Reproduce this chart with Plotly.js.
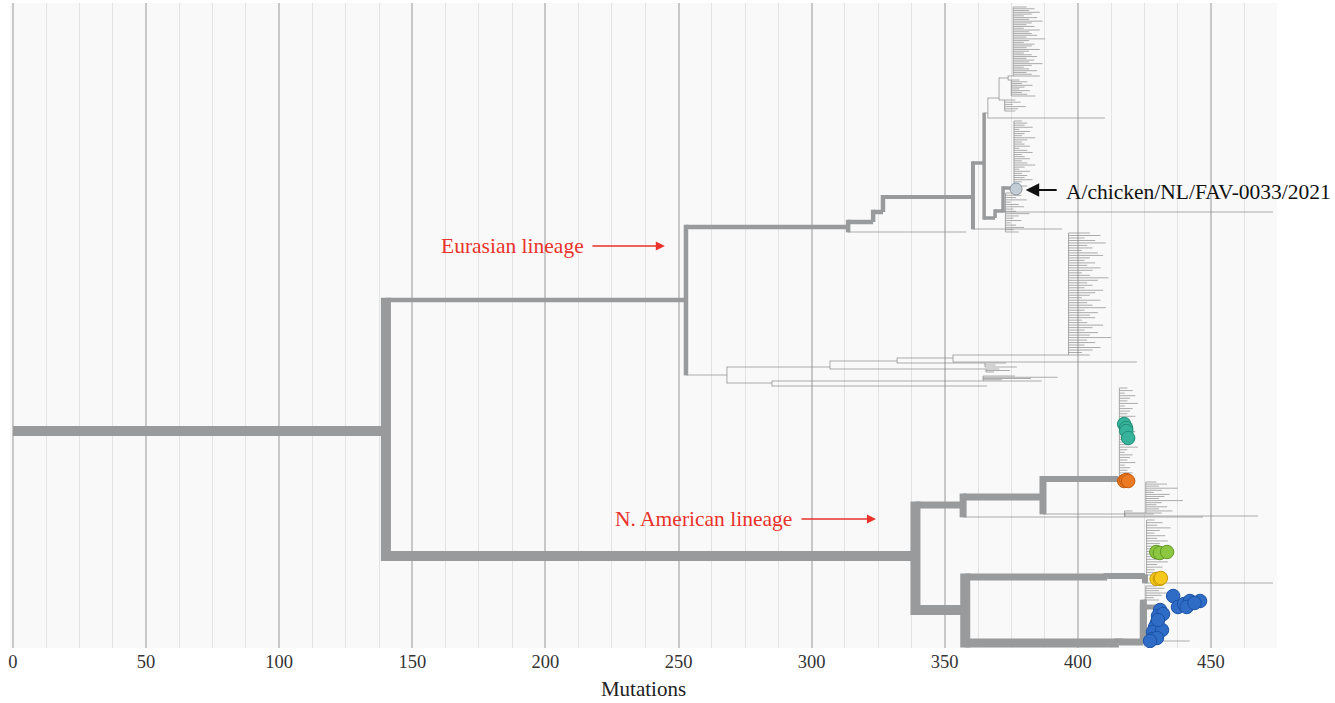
<!DOCTYPE html>
<html><head><meta charset="utf-8">
<script src="https://cdn.plot.ly/plotly-3.0.1.min.js"></script>
<style>html,body{margin:0;padding:0;background:#fff}#chart{width:1335px;height:703px}</style>
</head><body><div id="chart"></div>
<script>
// ---------- tree skeleton (internal branches) ----------
const branchName      = ['R0','N1','E1','E2','E3','E4','E5','E6','E7','E7a','E7b','E8','E9','E10','E2b','E5b','E7L','E9L',
  'EL','ELa','ELb','ELa1','ELa1a','ELL','ELb2','ELb2a',
  'NA1','NAu','NAl','NAu1','NAu2','NAu1a','NAu1b','NAu1L','NAl1','NAl1a','NAl1L','NAl2','NAl2a','NAl2b','NAl2L'];
const branchParent    = [null,'R0','N1','E1','E2','E3','E4','E5','E6','E7','E7a','E6','E8','E9','E2','E5','E7','E9',
  'E1','EL','EL','ELa','ELa1','ELa1a','ELb','ELb2',
  'N1','NA1','NA1','NAu','NAu','NAu1','NAu1','NAu1b','NAl','NAl1','NAl1a','NAl','NAl2','NAl2a','NAl2a'];
const branchMutations = [0,140.1,252.8,313.7,323.1,326.8,360.6,364.8,366.2,370.4,373.8,368.9,371.9,375.7,358.0,394.1,410.2,473.3,
  268.2,306.9,285.1,332.1,353.1,422.2,340.7,365.9,
  339.0,356.9,357.7,386.9,400.8,415.1,417.7,467.7,411.0,425.2,473.3,415.4,424.6,432.5,442.0];
const branchRow       = [431,431,300,227,222,212,197,163,113,98,78,218,211,188,232,229,118,212,
  375,367,383,361,358,362,386,386,
  556,505,610,497,517,479,514,516,577,576,583,643,642,607,641];

// ---------- collapsed tip clusters ----------
const clusterName      = ['TOPcol','TOPsub','TOPlow','EUmid','EUlow','ELcol','ELa1b','ELa2','ELb1','NAu2a','NAteal','NAmid','NAgy','NAblueTop'];
const clusterParent    = ['E7b','E7b','E7a','E10','E9','ELa1a','ELa1','ELa','ELb','NAu2','NAu1a','NAu1b','NAl1a','NAl2a'];
const clusterSpine     = [375.7,375.0,372.5,376.0,372.8,396.5,365.1,365.5,364.4,417.5,415.6,425.5,425.8,425.5];
const clusterRowTop    = [7,80,100,121,193,233,363,369,376,511,388,482,520,586];
const clusterRowBottom = [76,96,111,186,232,355,367,372,381,517,478,513,575,600];

const tipsTOPcol = [5,8,6,10,7,4,9,6,11,7,5,8,4,10,6,7,9,5,12,6,4,8,7,5,10,6,4,7,9,5,8,6,11,7,4,6,9,5,7,10];
const tipsTOPsub = [3,6,4,8,5,3,7,4,6,9];
const tipsTOPlow = [4,6,3,8,5,4];
const tipsEUmid  = [3,5,4,7,2,6,4,3,8,5,3,4,6,2,5,7,3,4,6,3,5,8,4,2,6,3,5,4,7,3,2,5];
const tipsEUlow  = [3,6,4,8,2,5,7,3,4,9,5,3,6,2,4,7,3,5];
const tipsELcol  = [8,12,6,10,14,7,9,5,11,13,8,6,10,7,12,9,5,8,15,11,7,9,6,13,10,8,5,12,7,9,14,6,11,8,10,5,7,13,9,6,11,8,16,7,10,6,12,9,5,8];
const tipsELa1b  = [8,4,12];
const tipsELa2   = [5,9,3];
const tipsELb1   = [12,28,18,7,22];
const tipsNAu2a  = [3,11,29.5];
const tipsNAteal = [3,5,2,6,4,3,7,2,5,4,3,6,2,4,5,3,2,6,4,3,5,2,4,7,3,2,5,4,3,6,2,4,3,5,2,4];
const tipsNAmid  = [4,8,5,12,6,3,9,7,5,14,6,4,8,5,10,6];
const tipsNAgy   = [3,6,4,9,5,3,7,4,8,5,3,6,4,7,3,5,8,4,6,3,5,4];
const tipsNAblue = [4,7,5,9,6,3,5];

// ---------- highlighted strains ----------
const refX = [376.8], refY = [189];
const tealX = [417.4,418.1,418.2,418.9], tealY = [424,428,431,438];
const orangeX = [417.4,418.2,418.9], orangeY = [481,480,481];
const greenX = [429.5,430.8,433.5], greenY = [552,553,552];
const yellowX = [429.6,430.8,431.2], yellowY = [579,579,578];
const blueX = [435.8,437.6,439.9,442.1,445.9,440.9,443.8,430.9,430.1,432.0,429.7,429.0,428.2,431.6,427.9,429.7,427.1,430.1];
const blueY = [596,607,604,601,601,607,603,610,616,614,623,627,632,630,639,638,641,620];

const tickValues = [0,50,100,150,200,250,300,350,400,450];
const xTitle = 'Mutations';
const labelEurasian = 'Eurasian lineage';
const labelNA = 'N. American lineage';
const labelStrain = 'A/chicken/NL/FAV-0033/2021';

// ---------- styles ----------
const branchWidth = {N1:10,NA1:10,NAl:10,NAl2:9,NAl2a:7,NAu:7,NAu1:7,NAu1a:6,NAl1:7,NAl1a:6,NAl2b:5,
  E1:4.5,E2:4.5,E3:4.5,E4:4.5,E5:4,E6:3.5,E8:3.5,E9:3.5,E10:3.5};
const THIN = 0.7;
const wOf = n => branchWidth[n] || THIN;

// ---------- build geometry ----------
const node = {};
branchName.forEach((n,i)=>{ node[n] = {x:branchMutations[i], y:branchRow[i], p:branchParent[i]}; });
const clusterTips = {TOPcol:tipsTOPcol,TOPsub:tipsTOPsub,TOPlow:tipsTOPlow,EUmid:tipsEUmid,EUlow:tipsEUlow,ELcol:tipsELcol,
  ELa1b:tipsELa1b,ELa2:tipsELa2,ELb1:tipsELb1,NAu2a:tipsNAu2a,NAteal:tipsNAteal,NAmid:tipsNAmid,NAgy:tipsNAgy,NAblueTop:tipsNAblue};

const groups = {}; // width -> {x:[],y:[]}
function seg(w,x0,y0,x1,y1){ const k=String(w); if(!groups[k]) groups[k]={x:[],y:[]}; groups[k].x.push(x0,x1,null); groups[k].y.push(y0,y1,null); }
function link(pn, cx, cy, cw){
  const p = node[pn]; const pw = wOf(pn);
  if (cy !== p.y){ const ext = cw/2*(cy>p.y?1:-1); seg(pw, p.x, p.y, p.x, cy+ext); }
  seg(cw, p.x, cy, cx, cy);
}
branchName.forEach(n=>{ const nd=node[n]; if(nd.p) link(nd.p, nd.x, nd.y, wOf(n)); });
clusterName.forEach((c,i)=>{
  const sx = clusterSpine[i], t = clusterRowTop[i], b = clusterRowBottom[i], tips = clusterTips[c];
  const p = node[clusterParent[i]];
  const attach = Math.min(Math.max(p.y, t), b);
  link(clusterParent[i], sx, attach, THIN);
  seg(THIN, sx, t, sx, b);
  const n = tips.length;
  tips.forEach((o,j)=>{ const r = n>1 ? t + j*(b-t)/(n-1) : t; seg(THIN, sx, r, sx+o, r); });
});

const traces = Object.keys(groups).map(Number).sort((a,b)=>a-b).map(w=>({
  type:'scatter', mode:'lines', x:groups[String(w)].x, y:groups[String(w)].y, hoverinfo:'skip',
  line:{color: w<1 ? '#8a8a8a' : '#999a9c', width:w}, showlegend:false
}));
function dots(x,y,fill,edge,size){ return {type:'scatter',mode:'markers',x:x,y:y,showlegend:false,hoverinfo:'skip',
  marker:{size:size||13.5,color:fill,line:{color:edge,width:1}}}; }
traces.push(dots(refX,refY,'#c3ccd4','#8796a2',12));
traces.push(dots(tealX,tealY,'#36b39a','#1f8d77'));
traces.push(dots(orangeX,orangeY,'#ec7a22','#c45a0e'));
traces.push(dots(greenX,greenY,'#8dc641','#5f9a25'));
traces.push(dots(yellowX,yellowY,'#f5c81c','#c99a00'));
traces.push(dots(blueX,blueY,'#2f6cc6','#1c52a6'));

const serif = 'Liberation Serif, Times New Roman, serif';
const red = '#e8322b';
const layout = {
  width:1335, height:703,
  margin:{l:10, r:58, t:3, b:55},
  paper_bgcolor:'#ffffff', plot_bgcolor:'#f9f9f9',
  xaxis:{range:[-1.1,474.8], tickvals:tickValues, ticktext:tickValues.map(String), showgrid:true, gridcolor:'#c8c8c8', gridwidth:2,
    minor:{dtick:12.5, tick0:0, showgrid:true, gridcolor:'#e3e3e3', gridwidth:1},
    zeroline:false, showline:false, ticks:'', tickfont:{family:serif, size:18.5, color:'#333'},
    title:{text:xTitle, font:{family:serif, size:21, color:'#222'}, standoff:10}},
  yaxis:{range:[648,3], visible:false, fixedrange:true},
  annotations:[
    {x:187.8, y:246, xref:'x', yref:'y', text:labelEurasian, showarrow:false, font:{family:serif,size:21.5,color:red}},
    {x:244.9, y:246, ax:217.1, ay:246, xref:'x', yref:'y', axref:'x', ayref:'y', text:'', showarrow:true, arrowhead:2, arrowsize:1.4, arrowwidth:1.3, arrowcolor:red},
    {x:259.4, y:519, xref:'x', yref:'y', text:labelNA, showarrow:false, font:{family:serif,size:21.5,color:red}},
    {x:324.2, y:519, ax:295.6, ay:519, xref:'x', yref:'y', axref:'x', ayref:'y', text:'', showarrow:true, arrowhead:2, arrowsize:1.4, arrowwidth:1.3, arrowcolor:red},
    {x:394.8, y:192, xref:'x', yref:'y', xanchor:'left', text:labelStrain, showarrow:false, font:{family:serif,size:21.5,color:'#111'}},
    {x:380.4, y:190, ax:392.6, ay:190, xref:'x', yref:'y', axref:'x', ayref:'y', text:'', showarrow:true, arrowhead:2, arrowsize:1.5, arrowwidth:1.8, arrowcolor:'#111'}
  ]
};
Plotly.newPlot('chart', traces, layout, {staticPlot:true, displayModeBar:false});
</script></body></html>
